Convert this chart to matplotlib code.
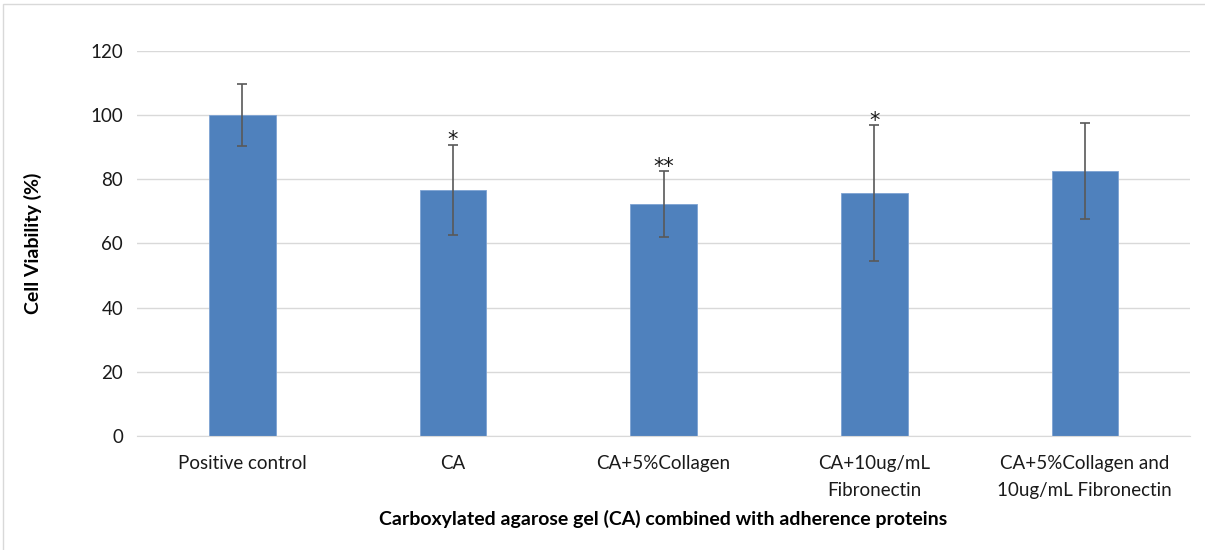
import numpy as np
import matplotlib.pyplot as plt
from matplotlib.patches import Rectangle

plt.rcParams['font.family'] = ['Lato', 'DejaVu Sans']

# data
groups = ['Positive control', 'CA', 'CA+5%Collagen', 'CA+10ug/mL\nFibronectin',
          'CA+5%Collagen and\n10ug/mL Fibronectin']
viability = [100.0, 76.8, 72.3, 75.7, 82.6]
sd = [9.6, 14.0, 10.2, 21.2, 15.0]
stars = ['', '*', '**', '*', '']

fig = plt.figure(figsize=(12.05, 5.5), dpi=100)
ax = fig.add_axes([0.1137, 0.2073, 0.874, 0.70])

x = np.arange(len(groups))
ax.bar(x, viability, width=0.316, color='#4f81bd', edgecolor='#7ea3d3', linewidth=0.6, zorder=2)
ax.errorbar(x, viability, yerr=sd, fmt='none', ecolor='#595959', elinewidth=1.2,
            capsize=3.5, capthick=1.2, zorder=3)

for xi, v, s, st in zip(x, viability, sd, stars):
    if st:
        ax.annotate(st, (xi, v + s), xytext=(0, -4), textcoords='offset points',
                    ha='center', va='bottom', fontsize=15, color='#1a1a1a',
                    family='DejaVu Sans')

ax.set_xlim(-0.5, len(groups) - 0.5)
ax.set_ylim(0, 120)
ax.set_yticks(np.arange(0, 121, 20))
ax.grid(axis='y', color='#d9d9d9', linewidth=1, zorder=0)
ax.set_axisbelow(True)
for side in ['top', 'right', 'left']:
    ax.spines[side].set_visible(False)
ax.spines['bottom'].set_color('#d9d9d9')
ax.tick_params(axis='both', length=0, labelsize=13.5, colors='#1a1a1a', pad=10)
ax.tick_params(axis='x', pad=14)
ax.set_xticks(x)
ax.set_xticklabels(groups, linespacing=1.65)

ax.set_ylabel('Cell Viability (%)', fontsize=14, fontweight='bold', labelpad=35)
ax.set_xlabel('Carboxylated agarose gel (CA) combined with adherence proteins',
              fontsize=14, fontweight='bold', labelpad=8)

fig.patches.append(Rectangle((0.0025, -0.01), 1.2, 1.003, transform=fig.transFigure,
                             fill=False, edgecolor='#d9d9d9', linewidth=1))

fig.savefig('out.png', dpi=100)
